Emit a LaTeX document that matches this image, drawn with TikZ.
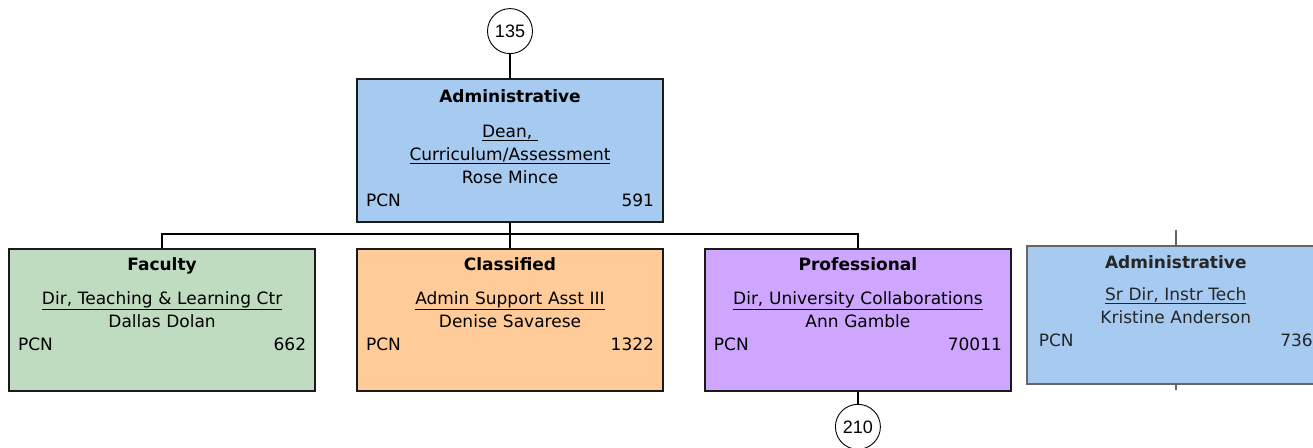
\documentclass[tikz,border=0pt]{standalone}
\usepackage{fontspec}
\setmainfont{DejaVu Sans}
\newfontfamily\circfont{Liberation Sans}
\usepackage{xcolor}
\definecolor{adminblue}{HTML}{A6CAF0}
\definecolor{facgreen}{HTML}{C0DCC0}
\definecolor{clsorange}{HTML}{FFCC99}
\definecolor{propurple}{HTML}{CFA6FF}
\definecolor{boxline}{HTML}{1A1A1A}
\definecolor{fadeline}{HTML}{666666}
\definecolor{fadetext}{HTML}{262626}
\usetikzlibrary{positioning}
\newcommand{\pcnrow}[1]{\hbox to \hsize{PCN\hfil #1}}

\begin{document}
\begin{tikzpicture}[x=1pt, y=-1pt,
        unitbox/.style={rectangle, draw=boxline, line width=1.9pt, minimum width=306pt, minimum height=142pt, inner sep=0pt},
        unittext/.style={text width=288pt, align=center, inner sep=0pt, font=\fontsize{17}{23}\selectfont},
        pcncircle/.style={circle, draw=black, line width=0.9pt, minimum size=45pt, inner sep=0pt, font=\circfont\fontsize{18}{18}\selectfont},
        link/.style={draw=black, line width=2pt},
        fadelink/.style={draw=fadeline, line width=2pt}
    ]
    \useasboundingbox (0,0) rectangle (1313,447);

    % Title fragment
    \node[anchor=base west, inner sep=0pt, font=\bfseries\fontsize{36}{36}\selectfont] (titletail) at (172,-7) {g};

    % Dean
    \node[unitbox, fill=adminblue, minimum height=143pt] (dean) at (510,150.5) {};
    \node[unittext, below=11pt of dean.north] (dean-txt) {\textbf{Administrative}\\[12pt]\underline{Dean,\ }\\\underline{Curriculum/Assessment}\\Rose Mince\\\pcnrow{591}};
    \node[pcncircle, above=24pt of dean] (up) {135};

    % Reports
    \node[unitbox, fill=clsorange, below=25pt of dean] (clerk) {};
    \node[unitbox, fill=facgreen, left=40pt of clerk] (faculty) {};
    \node[unitbox, fill=propurple, right=40pt of clerk] (prof) {};
    \node[unitbox, fill=adminblue, draw=fadeline, minimum width=298pt, minimum height=138pt, right=14pt of prof, yshift=5pt] (techdir) {};

    \node[unittext, below=9pt of faculty.north] (faculty-txt) {\textbf{Faculty}\\[11pt]\underline{Dir, Teaching \& Learning Ctr}\\Dallas Dolan\\\pcnrow{662}};
    \node[unittext, below=9pt of clerk.north] (clerk-txt) {\textbf{Classified}\\[11pt]\underline{Admin Support Asst III}\\Denise Savarese\\\pcnrow{1322}};
    \node[unittext, below=9pt of prof.north] (prof-txt) {\textbf{Professional}\\[11pt]\underline{Dir, University Collaborations}\\Ann Gamble\\\pcnrow{70011}};
    \node[unittext, text width=274pt, text=fadetext, below=10pt of techdir.north] (techdir-txt) {\textbf{Administrative}\\[9pt]\underline{Sr Dir, Instr Tech}\\Kristine Anderson\\\pcnrow{736}};

    \node[pcncircle, below=12pt of prof] (down) {210};

    % Connections
    \coordinate[below=11pt of dean.south] (bus);
    \coordinate[above=15pt of techdir.north] (techup);
    \coordinate[below=5pt of techdir.south] (techdown);
    \draw[link] (up) -- (dean);
    \draw[link] (dean) -- (clerk);
    \draw[link] (faculty.north) |- (bus) -| (prof.north);
    \draw[link] (prof) -- (down);
    \draw[fadelink] (techup) -- (techdir.north);
    \draw[fadelink] (techdir.south) -- (techdown);

\end{tikzpicture}
\end{document}
